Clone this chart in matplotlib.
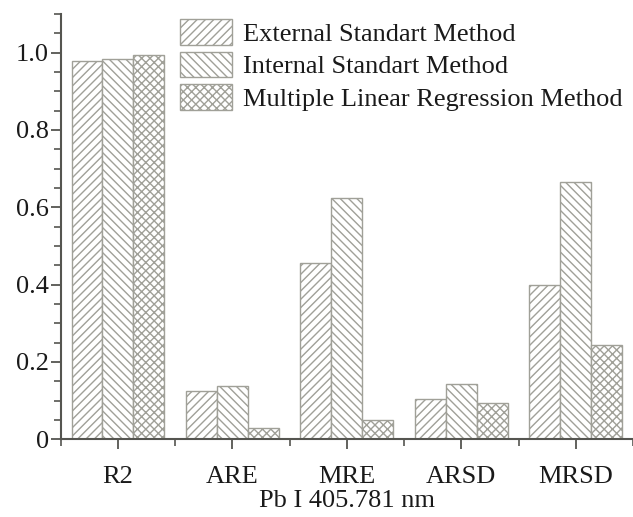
import matplotlib
matplotlib.use("Agg")
import matplotlib.pyplot as plt
import numpy as np
from matplotlib.ticker import MultipleLocator, FuncFormatter

categories = ["R2", "ARE", "MRE", "ARSD", "MRSD"]
series_names = ["External Standart Method", "Internal Standart Method",
                "Multiple Linear Regression Method"]
external = [0.978, 0.125, 0.455, 0.105, 0.400]
internal = [0.983, 0.138, 0.625, 0.143, 0.665]
mlr = [0.995, 0.030, 0.050, 0.095, 0.243]
xlabel = "Pb I 405.781 nm"

plt.rcParams['font.family'] = ['Liberation Serif', 'DejaVu Serif']
plt.rcParams['hatch.linewidth'] = 1.0
plt.rcParams['hatch.color'] = '#8f8f86'

fig = plt.figure(figsize=(6.33, 5.17), dpi=100)
ax = fig.add_axes([0.0959, 0.1503, 0.9041, 0.8227])

x = np.arange(len(categories))
w = 0.27
hatches = ['////', '\\\\\\\\', 'xxxx']
edge = '#a0a098'
for i, (vals, h, name) in enumerate(zip([external, internal, mlr], hatches, series_names)):
    ax.bar(x + (i - 1) * w, vals, width=w, facecolor='white', edgecolor=edge,
           hatch=h, linewidth=1.0, label=name)

ax.set_xlim(-0.5, 4.5)
ax.set_ylim(0, 1.1)
ax.set_xticks(x)
ax.set_xticklabels(categories)
ax.xaxis.set_minor_locator(MultipleLocator(0.5))
ax.yaxis.set_major_locator(MultipleLocator(0.2))
ax.yaxis.set_minor_locator(MultipleLocator(0.05))
ax.yaxis.set_major_formatter(FuncFormatter(lambda v, p: '0' if abs(v) < 1e-9 else f'{v:.1f}'))

for s in ['top', 'right']:
    ax.spines[s].set_visible(False)
for s in ['left', 'bottom']:
    ax.spines[s].set_color('#555550')
    ax.spines[s].set_linewidth(1.5)

ax.tick_params(axis='both', which='major', direction='out', length=7, width=1.3,
               color='#555550', labelsize=19, labelcolor='#1a1a1a')
ax.tick_params(axis='both', which='minor', direction='out', length=5, width=1.2,
               color='#555550')
ax.tick_params(axis='x', which='major', pad=12)
ax.tick_params(axis='y', which='major', pad=1.5)
ax.set_xlabel(xlabel, fontsize=19, color='#1a1a1a', labelpad=2)

leg = ax.legend(loc='upper left', bbox_to_anchor=(180 / 633, 1 - 19 / 517),
                bbox_transform=fig.transFigure, frameon=False, fontsize=19,
                handlelength=1.97, handleheight=1.12, handletextpad=0.42,
                labelspacing=0.22, borderaxespad=0, borderpad=0)
for t in leg.get_texts():
    t.set_color('#1a1a1a')

fig.savefig("out.png", dpi=100)
